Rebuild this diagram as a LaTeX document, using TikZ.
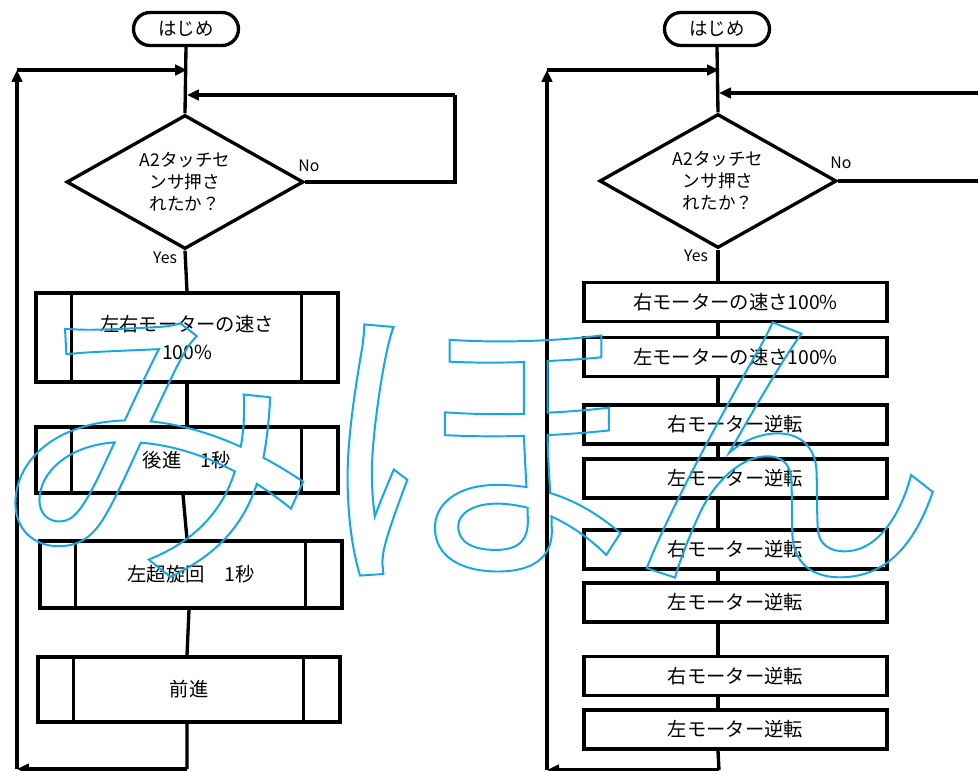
\documentclass[tikz,border=0pt]{standalone}
\usepackage{fontspec}
\setmainfont{Noto Sans CJK JP}
\usetikzlibrary{arrows.meta,shapes.geometric,shapes.misc}
\definecolor{wmcyan}{HTML}{16A8E3}
\newcommand{\outlinetext}[1]{\special{pdf:literal direct 1 Tr 1.1 w}#1\special{pdf:literal direct 0 Tr}}
\tikzset{
  line/.style={line width=1.9pt,black},
  flow/.style={-{Triangle[length=2.4mm,width=2.1mm]},line width=1.9pt},
  startbox/.style={rounded rectangle,draw,line width=1.9pt,minimum width=2.1cm,minimum height=0.66cm,inner sep=0pt,font=\fontsize{10.5}{12}\selectfont},
  askbox/.style={diamond,draw,line width=1.9pt,aspect=1.77,minimum width=4.74cm,minimum height=2.68cm,inner sep=0pt,align=center,font=\fontsize{10}{12.5}\selectfont},
  procbox/.style={draw,line width=1.9pt,fill=white,minimum width=6.04cm,minimum height=#1,inner sep=0pt,align=center,font=\fontsize{11}{16}\selectfont},
  actbox/.style={draw,line width=1.9pt,fill=white,minimum width=6.06cm,minimum height=0.78cm,inner sep=0pt,font=\fontsize{11}{13}\selectfont},
  tag/.style={inner sep=0pt,font=\fontsize{9}{10}\selectfont},
  markchar/.style={inner sep=0pt,text=wmcyan,xscale=1.05,transform shape,font=\fontsize{178}{178}\selectfont},
}

\begin{document}
\begin{tikzpicture}[x=0.02cm,y=-0.02cm]
\useasboundingbox[fill=white] (0,0) rectangle (978,771);

% left chart
\node[startbox] (ls) at (186,29) {はじめ};
\node[askbox] (lq) at (185,182) {A2タッチセ\\ンサ押さ\\れたか？};
\node[procbox=1.78cm] (l1) at (187,337.5) {左右モーターの速さ\\100\%};
\node[procbox=1.32cm] (l2) at (187,460) {後進　1秒};
\node[procbox=1.34cm] (l3) at (191,574.5) {左超旋回　1秒};
\node[procbox=1.30cm] (l4) at (189,689.5) {前進};
\node[tag] (lno) at (309,166) {No};
\node[tag] (lyes) at (165,258) {Yes};
\foreach \b in {l1,l2,l3,l4} {
  \draw[line] ([xshift=0.74cm]\b.north west) -- ([xshift=0.74cm]\b.south west);
  \draw[line] ([xshift=-0.76cm]\b.north east) -- ([xshift=-0.76cm]\b.south east);
}
\coordinate (lm1) at (187,70);
\coordinate (lm2) at (187,95);
\coordinate (lr1) at (455,182);
\coordinate (lr2) at (455,95);
\coordinate (lb0) at (187,769);
\coordinate (lb1) at (17,769);
\coordinate (lb2) at (17,70);
\draw[line] (ls.south) -- (lq.north);
\draw[line] (lq.south) -- (l1.north);
\draw[line] (l1.south) -- (l2.north);
\draw[line] ([xshift=-0.08cm]l2.south) -- ([xshift=-0.08cm]l3.north);
\draw[line] ([xshift=-0.04cm]l3.south) -- ([xshift=-0.04cm]l4.north);
\draw[line] ([xshift=-0.04cm]l4.south) -- (lb0);
\draw[flow] (lb0) -- (lb1);
\draw[flow] (lb1) -- (lb2);
\draw[flow] (lb2) -- (lm1);
\draw[line] (lq.east) -- (lr1) -- (lr2);
\draw[flow] (lr2) -- (lm2);

% right chart
\node[startbox] (rs) at (717,29) {はじめ};
\node[askbox] (rq) at (718,181) {A2タッチセ\\ンサ押さ\\れたか？};
\node[tag] (rno) at (841,163) {No};
\node[tag] (ryes) at (696,256) {Yes};
\foreach \n/\y/\t in {r1/302/右モーターの速さ100\%,r2/357/左モーターの速さ100\%,
    r3/424.5/右モーター逆転,r4/478.5/左モーター逆転,r5/549.5/右モーター逆転,
    r6/602.5/左モーター逆転,r7/676/右モーター逆転,r8/729.5/左モーター逆転} {
  \node[actbox] (\n) at (735.5,\y) {\t};
}
\coordinate (rm1) at (719,70);
\coordinate (rm2) at (719,93);
\coordinate (rr1) at (1000,181);
\coordinate (rr2) at (1000,93);
\coordinate (rb0) at (719,770);
\coordinate (rb1) at (547,770);
\coordinate (rb2) at (547,70);
\draw[line] (rs.south) -- (rq.north);
\draw[line] (rq.south) -- (rq.south |- r1.north);
\foreach \a/\b in {r1/r2,r2/r3,r3/r4,r4/r5,r5/r6,r6/r7,r7/r8} {
  \draw[line] (rq.south |- \a.south) -- (rq.south |- \b.north);
}
\draw[line] (rq.south |- r8.south) -- (rb0);
\draw[flow] (rb0) -- (rb1);
\draw[flow] (rb1) -- (rb2);
\draw[flow] (rb2) -- (rm1);
\draw[line] (rq.east) -- (rr1) -- (rr2);
\draw[flow] (rr2) -- (rm2);

% sample mark
\foreach \n/\x/\t in {mk1/156/み,mk2/474/ほ,mk3/786/ん} {
  \node[markchar] (\n) at (\x,450) {\outlinetext{\t}};
}
\end{tikzpicture}
\end{document}
